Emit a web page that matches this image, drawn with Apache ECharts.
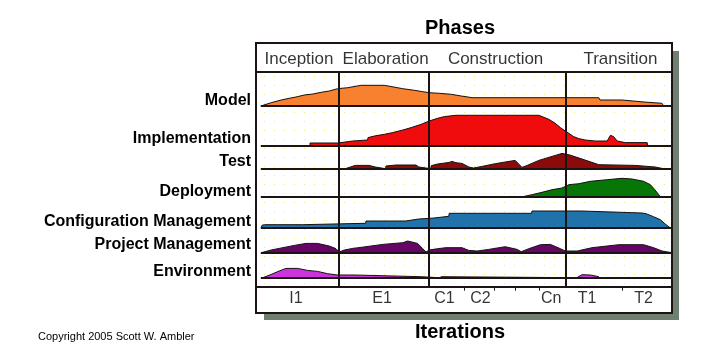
<!DOCTYPE html>
<html><head><meta charset="utf-8">
<script src="https://cdn.jsdelivr.net/npm/echarts@6/dist/echarts.min.js"></script>
<style>html,body{margin:0;padding:0;background:#fff}#c{width:701px;height:363px}</style>
</head><body><div id="c"></div>
<script>
// ---------- data (time axis: 0..104 units across the project) ----------
const phases = ['Inception', 'Elaboration', 'Construction', 'Transition'];
const phaseCenters = [10.75, 32.4, 59.9, 91.1];
const phaseBoundaries = [20.6, 43.3, 77.5];
const iterations = ['I1', 'E1', 'C1', 'C2', 'Cn', 'T1', 'T2'];
const iterationCenters = [10, 31.5, 47.1, 56.1, 73.8, 82.75, 96.9];
const iterationBoundaries = [52.1, 59.6, 64.7, 70.7, 91.5];
const disciplines = ['Model', 'Implementation', 'Test', 'Deployment', 'Configuration Management', 'Project Management', 'Environment'];

const model = [[1.2,0],[1.7,1.3],[3.8,3.3],[6.3,6],[8.3,7.7],[10,9],[12.1,11],[14.2,12],[16.3,13.7],[18.3,15],[20.4,17.3],[22.9,18.3],[26.3,20.7],[32.1,20.7],[32.5,19],[36.7,17.3],[39.6,15.7],[41.7,14.3],[43.3,13.3],[45.8,12.7],[48.8,11.7],[51.3,10],[53,9],[54,8.3],[85.7,8.3],[86,6],[91.5,6],[91.6,4],[97,4],[97.1,2.7],[101.5,2.7],[101.9,0]];
const implementation = [[13.5,0],[13.5,2.3],[20.4,2.3],[20.5,4.3],[24.2,4.3],[24.3,5.3],[27.9,5.3],[28,7.7],[29.6,9.3],[32.1,11],[34.2,12.7],[36.7,15.3],[38.8,17.7],[41.3,21],[43.3,24.3],[45.4,27],[47.1,28.7],[50,30],[70.7,30],[71.5,28.7],[73.2,26],[74.8,22],[76.1,17.7],[77.3,14.3],[78.2,12],[79.4,8.7],[80.7,6.7],[82.3,5.3],[84.8,4.3],[87.8,4.3],[88.6,10],[89.4,8.7],[90.3,4.3],[92.3,2.7],[97.8,2.7],[97.9,0]];
const test = [[22.3,0],[22.3,2],[24.8,3.3],[28.3,3.3],[29.8,1.7],[29.9,0],[32.4,0],[32.5,2.7],[35,3.7],[40,3.7],[40.7,1.7],[40.8,0],[43.7,0],[43.8,3],[45.4,4.7],[48.3,6.3],[49,7.3],[50,6],[51.5,5.3],[53.2,1.7],[54.4,0.7],[56.5,2.3],[59.8,5],[62.3,6.7],[64.8,8.3],[66.5,1.3],[67.8,3.3],[70.7,8.3],[74,12.3],[76.5,15.3],[78.2,14],[81.5,9.7],[85.7,4],[94.8,3.3],[99.8,1.7],[101.9,0]];
const deployment = [[66.3,0],[66.4,1.7],[69,2.3],[71.5,4.7],[74,7.3],[76.5,9],[78.2,12.3],[80.7,13.3],[83.6,15.7],[87.8,17.3],[91.5,18.7],[94,18],[96.9,15.7],[98.6,12.3],[99.7,7.3],[100.7,2.3],[101.1,0]];
const configuration = [[1.3,0],[1.5,2.7],[2.1,3.3],[11.6,3.3],[11.7,4.7],[27.4,4.7],[27.5,7],[37.4,7],[37.5,9],[40.7,9],[40.8,10],[44.5,10],[44.6,11.7],[48.2,11.7],[48.3,14.7],[68.9,14.7],[69,17],[81.4,17],[81.5,15],[96.5,15],[97.5,14.3],[99.4,11.3],[101.1,8.3],[102.3,4],[103.6,0]];
const project = [[1.3,0],[1.5,0.7],[3.8,2.7],[5.8,4.3],[9.6,7.3],[12.5,9.3],[15.4,9.3],[18.3,6.7],[20,4],[20.8,0.7],[22.1,2.7],[24.2,4.3],[27.5,6],[31.7,8.3],[36.7,10],[37.1,11.7],[37.9,11.7],[38.3,10],[40.4,9.3],[41.7,4],[42.5,0.7],[43.3,2.7],[45.4,4],[47.5,5],[51.5,5],[53.2,2.3],[55.3,1.7],[58.2,3.3],[62.3,6],[65.3,3.3],[66.3,1],[68.2,4],[71.1,8],[73.6,8.3],[76.1,4],[77.3,1.7],[80.3,1.7],[84,5],[90.7,8],[96.9,8],[99.4,5],[101.5,1.7],[104,0]];
const environment = [[1.7,0],[3.8,3.3],[5.8,6.7],[7.5,9.3],[10.4,9.3],[12.9,7.3],[15.4,6.3],[17.9,4],[20.4,2.7],[24.6,2.7],[25,1],[41.3,1],[41.4,0],[45.7,0],[45.7,1],[46.5,1],[46.5,0],[80.2,0],[80.3,1.7],[81.5,3],[83.6,2.7],[85.7,1],[85.9,0]];
const rows = [model, implementation, test, deployment, configuration, project, environment];

// ---------- styles / layout ----------
const colors = ['#f7812f', '#f00c0c', '#8b0a0a', '#067706', '#1f72aa', '#660566', '#cc33dd'];
const baselines = [106, 145.3, 168.7, 197, 228, 252.7, 277.7];
const labelYs = [100.7, 139, 162, 191.7, 221.7, 245, 272];
const ROWH = 32;
const X0 = 256, XW = 416, XMAX = 104;
const dark = '#1c1414';

const tile = document.createElement('canvas'); tile.width = 10; tile.height = 9;
const tg = tile.getContext('2d'); tg.fillStyle = 'rgba(232,232,110,0.85)'; tg.fillRect(4, 4, 1, 1);

const grids = [], xAxes = [], yAxes = [], series = [];
function addGrid(top, height, ymax) {
  grids.push({left: X0, top: top, width: XW, height: height, containLabel: false});
  const i = grids.length - 1;
  xAxes.push({type: 'value', gridIndex: i, min: 0, max: XMAX, show: false});
  yAxes.push({type: 'value', gridIndex: i, min: 0, max: ymax, show: false});
  return i;
}
const mlBase = {symbol: 'none', silent: true, label: {show: false}, animation: false};

// 0: plot frame (phase lines)
const gFrame = addGrid(72, 215, 1);
series.push({type: 'line', xAxisIndex: gFrame, yAxisIndex: gFrame, data: [[0, 0]], showSymbol: false,
  lineStyle: {opacity: 0}, z: 10,
  markLine: Object.assign({}, mlBase, {lineStyle: {color: dark, width: 2, type: 'solid'},
    data: phaseBoundaries.map(v => ({xAxis: v}))})});
// 1: header (phase names)
const gHead = addGrid(46, 27, 1);
series.push({type: 'scatter', xAxisIndex: gHead, yAxisIndex: gHead, symbolSize: 1, itemStyle: {color: 'transparent'},
  silent: true,
  data: phases.map((p, i) => ({name: p, value: [phaseCenters[i], 0.5]})),
  label: {show: true, position: 'inside', formatter: '{b}', color: '#000', fontSize: 17, fontFamily: 'Liberation Sans'}});
// 2: iteration row
const gIter = addGrid(287, 26, 1);
series.push({type: 'scatter', xAxisIndex: gIter, yAxisIndex: gIter, symbolSize: 1, itemStyle: {color: 'transparent'},
  silent: true,
  data: iterations.map((p, i) => ({name: p, value: [iterationCenters[i], 0.57]})),
  label: {show: true, position: 'inside', formatter: '{b}', color: '#000', fontSize: 16, fontFamily: 'Liberation Sans'},
  markLine: Object.assign({}, mlBase, {lineStyle: {color: dark, width: 1, type: 'solid'},
    data: iterationBoundaries.map(v => [{coord: [v, 1]}, {coord: [v, 0.86]}])})});
// rows
rows.forEach((d, i) => {
  const gi = addGrid(baselines[i] - ROWH, ROWH, ROWH);
  series.push({type: 'line', name: disciplines[i], xAxisIndex: gi, yAxisIndex: gi, data: d,
    showSymbol: false, symbol: 'none', z: 3,
    lineStyle: {color: '#161010', width: 1}, itemStyle: {color: colors[i]},
    areaStyle: {color: colors[i], opacity: 1},
    markLine: Object.assign({}, mlBase, {lineStyle: {color: dark, width: 2, type: 'solid'},
      data: [[{coord: [1.2, 0]}, {coord: [XMAX, 0]}]]})});
});

function txt(text, x, y, font, align) {
  return {type: 'text', silent: true, z: 20, style: {text: text, x: x, y: y, font: font, fill: '#000',
    textAlign: align, textVerticalAlign: 'middle', align: align, verticalAlign: 'middle'}};
}
const graphics = [
  {type: 'rect', z: -10, silent: true, shape: {x: 264, y: 51, width: 415, height: 269}, style: {fill: '#708070'}},
  {type: 'rect', z: -9, silent: true, shape: {x: X0, y: 43, width: XW, height: 270}, style: {fill: '#ffffff', stroke: dark, lineWidth: 2}},
  {type: 'rect', z: -8, silent: true, shape: {x: X0 + 2, y: 74, width: XW - 4, height: 211}, style: {fill: {image: tile, repeat: 'repeat'}}},
  {type: 'line', z: 20, silent: true, shape: {x1: X0, y1: 72, x2: X0 + XW, y2: 72}, style: {stroke: dark, lineWidth: 2}},
  {type: 'line', z: 20, silent: true, shape: {x1: X0, y1: 287, x2: X0 + XW, y2: 287}, style: {stroke: dark, lineWidth: 2}},
  txt('Phases', 460, 28, 'bold 20px "Liberation Sans"', 'center'),
  txt('Iterations', 460, 332, 'bold 20px "Liberation Sans"', 'center'),
  txt('Copyright 2005 Scott W. Ambler', 38, 337, '11px "Liberation Sans"', 'left')
].concat(disciplines.map((n, i) => txt(n, 251, labelYs[i], 'bold 16px "Liberation Sans"', 'right')));

const chart = echarts.init(document.getElementById('c'), null, {renderer: 'canvas'});
chart.setOption({
  animation: false,
  backgroundColor: '#ffffff',
  grid: grids, xAxis: xAxes, yAxis: yAxes, series: series,
  graphic: {elements: graphics}
});
</script></body></html>
